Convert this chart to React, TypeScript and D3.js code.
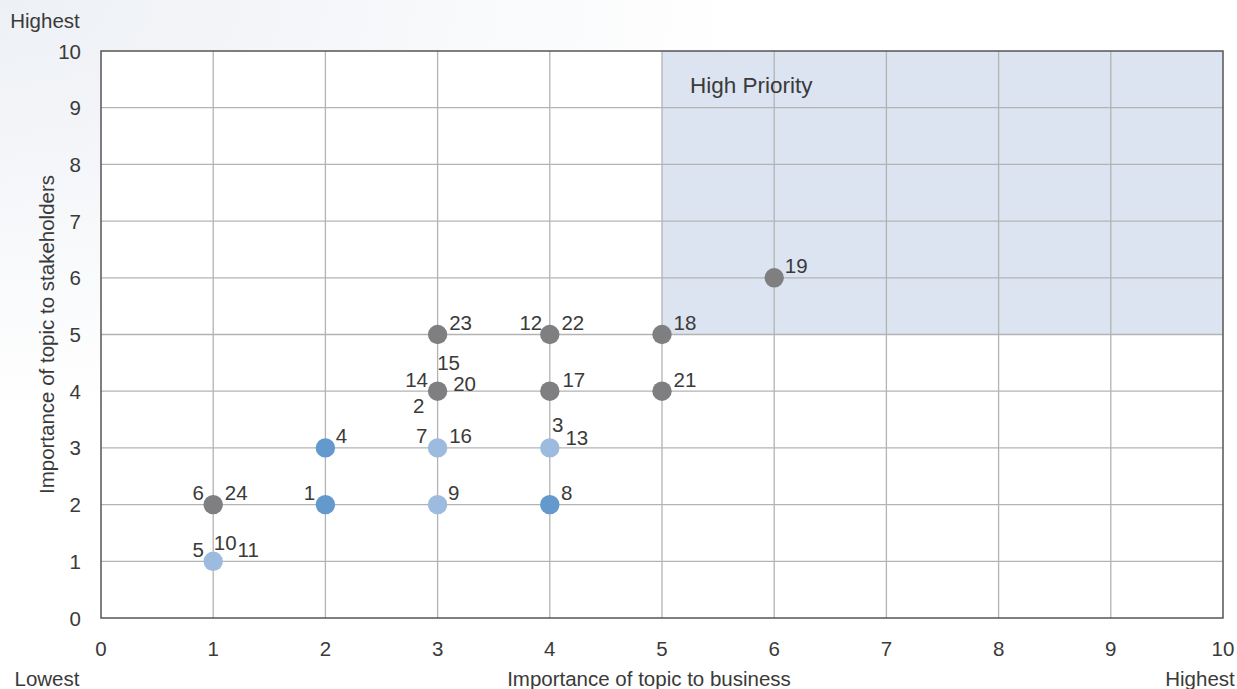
import React from "react";
import * as d3 from "d3";

const W = 1237;
const H = 689;

const xTicks = [0, 1, 2, 3, 4, 5, 6, 7, 8, 9, 10];
const yTicks = [0, 1, 2, 3, 4, 5, 6, 7, 8, 9, 10];

// topic points: business importance, stakeholder importance, group
const pointX = [1, 1, 2, 2, 3, 3, 3, 3, 4, 4, 4, 4, 5, 5, 6];
const pointY = [1, 2, 2, 3, 2, 3, 4, 5, 2, 3, 4, 5, 4, 5, 6];
const pointGroup = ["light", "gray", "dark", "dark", "light", "light", "gray", "gray", "dark", "light", "gray", "gray", "gray", "gray", "gray"];
const pointLabels = [
  ["5", "10", "11"],
  ["6", "24"],
  ["1"],
  ["4"],
  ["9"],
  ["7", "16"],
  ["14", "15", "20", "2"],
  ["23"],
  ["8"],
  ["3", "13"],
  ["17"],
  ["12", "22"],
  ["21"],
  ["18"],
  ["19"],
];

const highPriorityX = [5, 10];
const highPriorityY = [5, 10];

// label placement (pixel offsets of label centre from the dot)
const labelOffsets: Record<string, [number, number]> = {
  "5": [-15, -12], "10": [12, -19], "11": [35, -12],
  "6": [-15, -12], "24": [23, -12],
  "1": [-16, -12], "4": [16, -12], "9": [16, -12],
  "7": [-16, -12], "16": [23, -12],
  "14": [-21, -12], "15": [11, -29], "20": [27, -8], "2": [-19, 14],
  "23": [23, -12], "8": [17, -12],
  "3": [8, -23], "13": [27, -10],
  "17": [24, -12], "12": [-19, -12], "22": [23, -12],
  "21": [23, -12], "18": [23, -12], "19": [22, -12],
};

const groupColor: Record<string, string> = {
  gray: "#7f7f82",
  dark: "#6399cd",
  light: "#9dbadf",
};

const FONT = "'Liberation Sans', Arial, Helvetica, sans-serif";
const TEXT = "#3a3a3a";
const FS = 20.5;

export default function App() {
  const left = 101, right = 1223, top = 51, bottom = 618;
  const x = d3.scaleLinear().domain([0, 10]).range([left, right]);
  const y = d3.scaleLinear().domain([0, 10]).range([bottom, top]);

  return (
    <svg width={W} height={H} style={{ position: "absolute", left: 0, top: 0, display: "block" }} fontFamily={FONT}>
      <defs>
        <radialGradient id="bg" cx="0" cy="0" r="0.6" gradientUnits="objectBoundingBox">
          <stop offset="0" stopColor="#edf0f5" />
          <stop offset="1" stopColor="#ffffff" />
        </radialGradient>
      </defs>
      <rect x={0} y={0} width={W} height={H} fill="url(#bg)" />
      <rect x={left} y={top} width={right - left} height={bottom - top} fill="#ffffff" />
      <rect
        x={x(highPriorityX[0])}
        y={y(highPriorityY[1])}
        width={x(highPriorityX[1]) - x(highPriorityX[0])}
        height={y(highPriorityY[0]) - y(highPriorityY[1])}
        fill="#dbe4f0"
      />
      {xTicks.slice(1, -1).map((t) => (
        <line key={"gx" + t} x1={x(t)} x2={x(t)} y1={top} y2={bottom} stroke="#b3b3b3" strokeWidth={1.3} />
      ))}
      {yTicks.slice(1, -1).map((t) => (
        <line key={"gy" + t} x1={left} x2={right} y1={y(t)} y2={y(t)} stroke="#b3b3b3" strokeWidth={1.3} />
      ))}
      <rect x={left} y={top} width={right - left} height={bottom - top} fill="none" stroke="#555555" strokeWidth={1.5} />
      <text x={x(highPriorityX[0]) + 28} y={y(9) - 15} fontSize={22.5} fill={TEXT}>High Priority</text>

      {xTicks.map((t) => (
        <text key={"tx" + t} x={x(t)} y={656} textAnchor="middle" fontSize={FS} fill={TEXT}>{t}</text>
      ))}
      {yTicks.map((t) => (
        <text key={"ty" + t} x={81} y={y(t) + 7.5} textAnchor="end" fontSize={FS} fill={TEXT}>{t}</text>
      ))}

      <text x={45} y={28} textAnchor="middle" fontSize={FS} fill={TEXT}>Highest</text>
      <text x={47} y={686} textAnchor="middle" fontSize={FS} fill={TEXT}>Lowest</text>
      <text x={1200} y={686} textAnchor="middle" fontSize={FS} fill={TEXT}>Highest</text>
      <text x={649} y={686} textAnchor="middle" fontSize={FS} fill={TEXT}>Importance of topic to business</text>
      <text transform={`translate(54, ${(top + bottom) / 2}) rotate(-90)`} textAnchor="middle" fontSize={FS} fill={TEXT}>
        Importance of topic to stakeholders
      </text>

      {pointX.map((px, i) => (
        <g key={"p" + i}>
          <circle cx={x(px)} cy={y(pointY[i])} r={9.7} fill={groupColor[pointGroup[i]]} />
          {pointLabels[i].map((lab) => {
            const [dx, dy] = labelOffsets[lab];
            return (
              <text key={lab} x={x(px) + dx} y={y(pointY[i]) + dy + 7.5} textAnchor="middle" fontSize={FS} fill={TEXT}>
                {lab}
              </text>
            );
          })}
        </g>
      ))}
    </svg>
  );
}
